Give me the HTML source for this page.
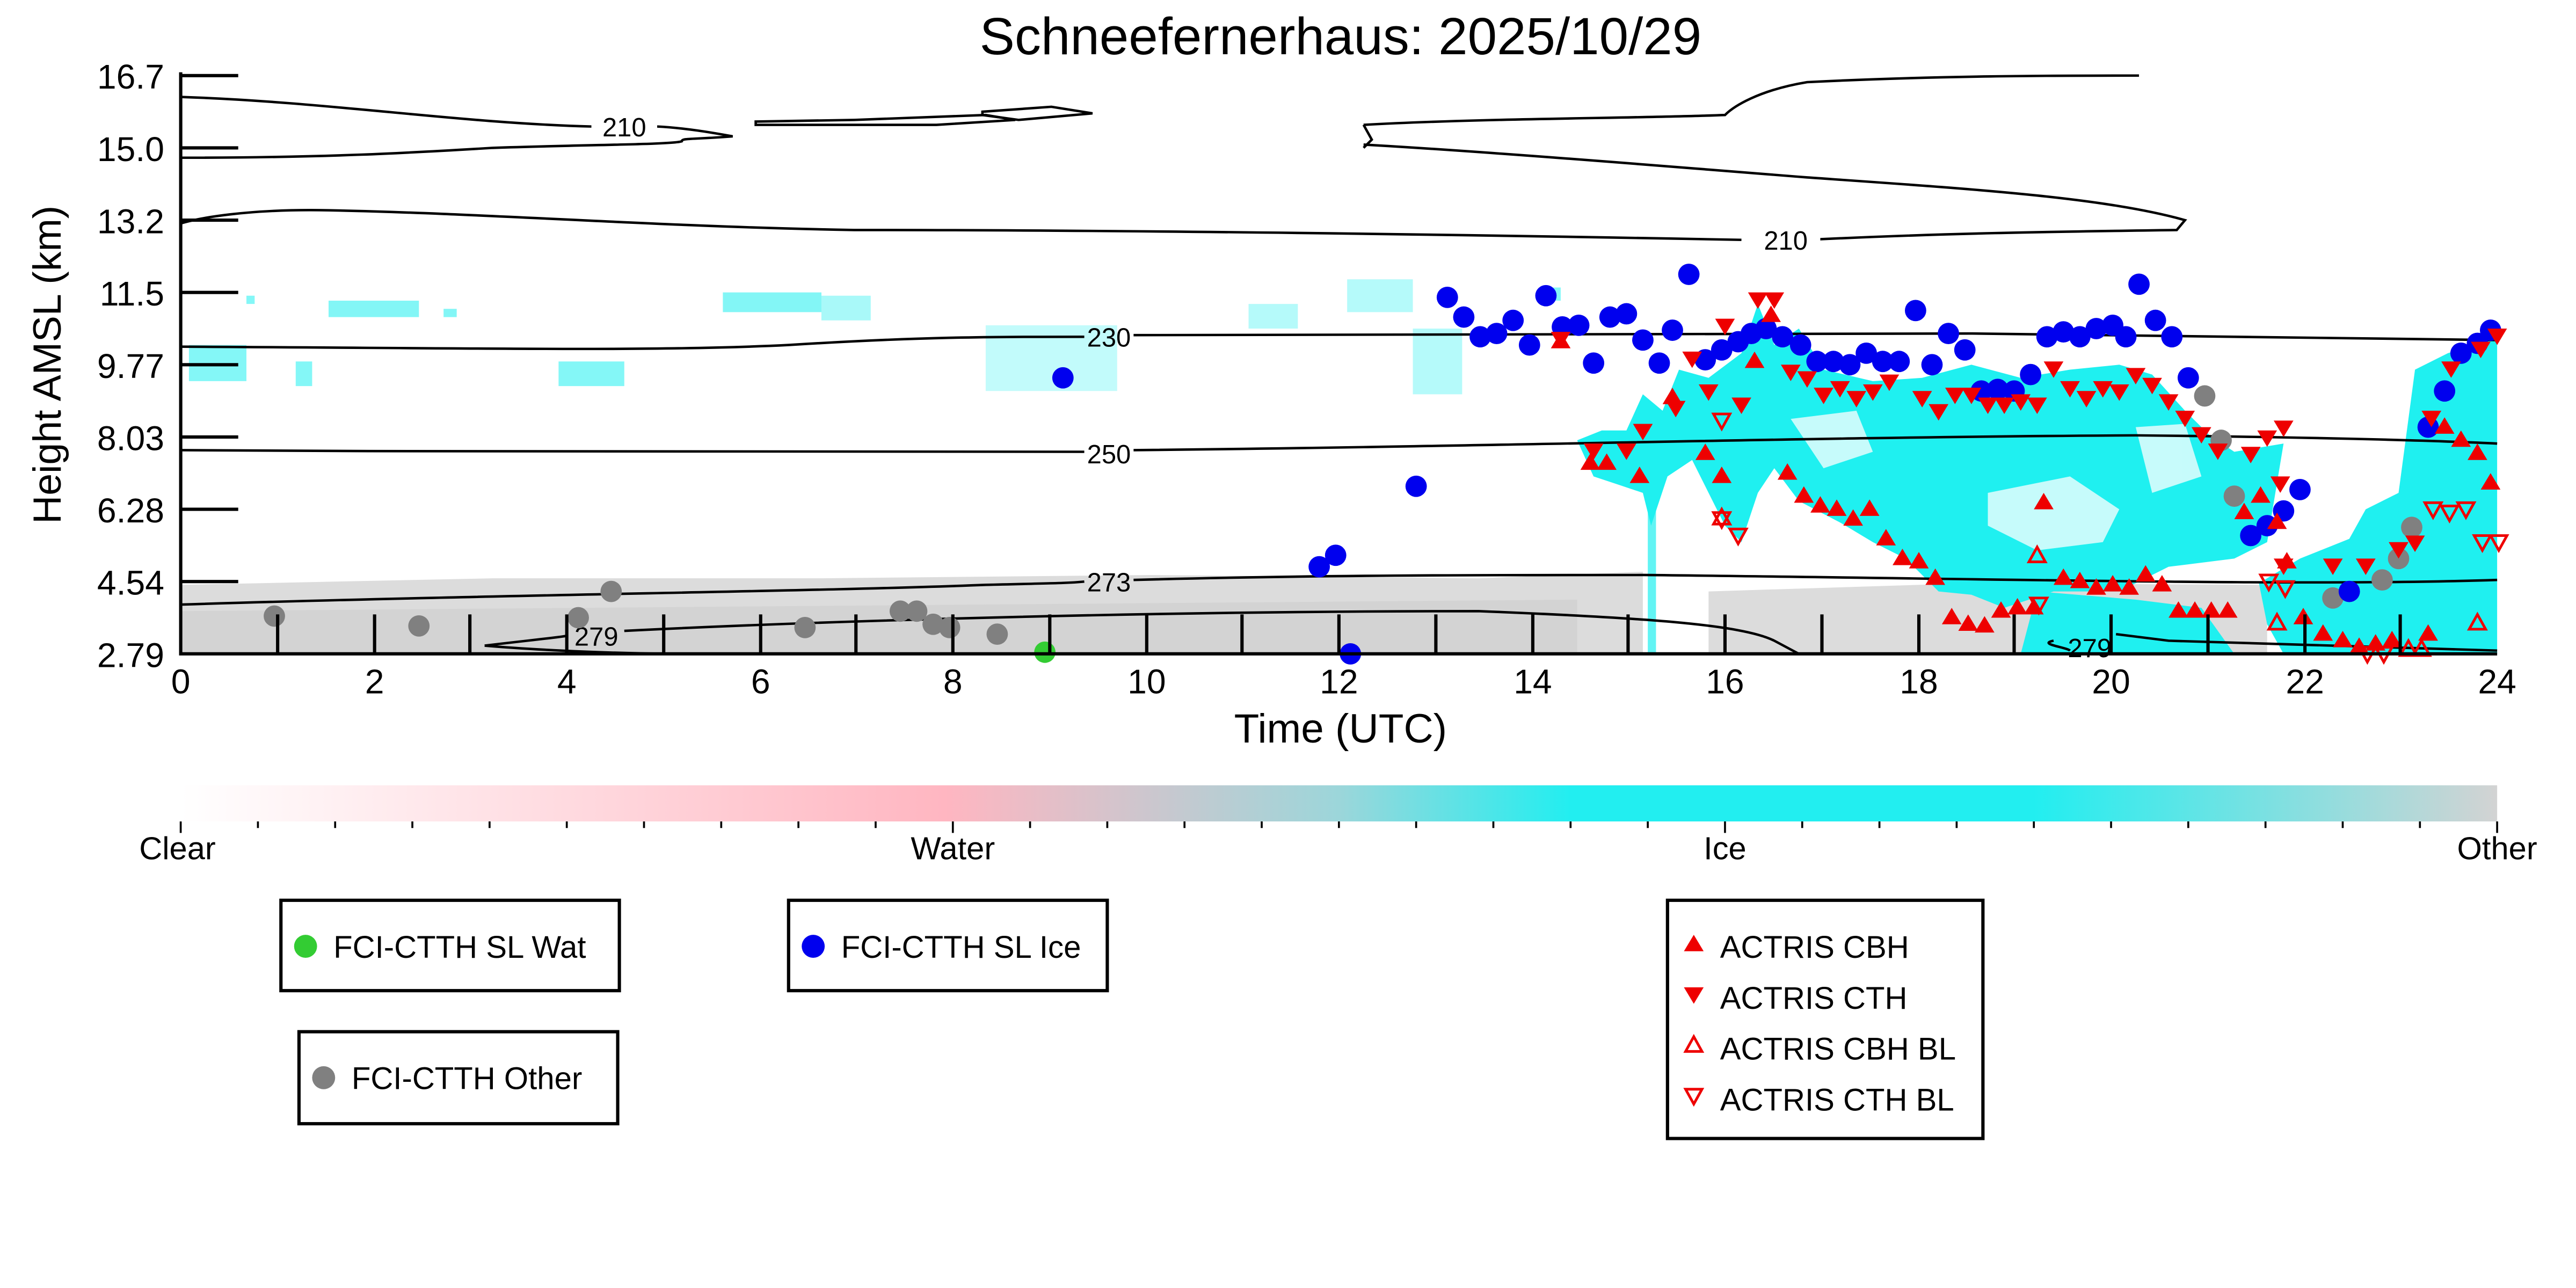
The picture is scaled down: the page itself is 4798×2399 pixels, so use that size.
<!DOCTYPE html>
<html><head><meta charset="utf-8"><style>
html,body{margin:0;padding:0;background:#fff}
svg{display:block}
text{font-family:"Liberation Sans",sans-serif}
</style></head><body>
<svg width="4798" height="2399" viewBox="0 0 1568 784" xmlns="http://www.w3.org/2000/svg">
<defs>
<linearGradient id="cb" x1="0" x2="1" y1="0" y2="0">
<stop offset="0" stop-color="#ffffff"/>
<stop offset="0.33" stop-color="#ffb6c1"/>
<stop offset="0.5" stop-color="#9cd6da"/>
<stop offset="0.6" stop-color="#22eef0"/>
<stop offset="0.8" stop-color="#22eef0"/>
<stop offset="1" stop-color="#d3d3d3"/>
</linearGradient>
</defs>
<text x="816" y="33" font-size="32" text-anchor="middle">Schneefernerhaus: 2025/10/29</text>

<!-- gray background band -->
<path d="M110,356 L300,352 L500,352 L700,350 L900,352 L1000,348 L1000,398 L110,398 Z" fill="#dcdcdc"/>
<path d="M1040,360 L1200,355 L1380,356 L1380,398 L1040,398Z" fill="#dcdcdc"/>
<path d="M110,372 L960,365 L960,398 L110,398Z" fill="#d3d3d3"/>

<!-- cyan regions -->
<g fill="#1ff0f0">
<path d="M960,268 L975,262 L990,262 L1000,240 L1012,250 L1022,225 L1040,230 L1060,215 L1070,185 L1080,210 L1095,200 L1110,225 L1140,232 L1170,230 L1200,222 L1230,230 L1260,225 L1290,222 L1310,228 L1330,250 L1345,265 L1360,275 L1390,270 L1385,300 L1380,330 L1360,340 L1320,345 L1290,360 L1250,360 L1220,370 L1200,362 L1180,360 L1160,340 L1140,330 L1120,318 L1095,305 L1080,285 L1070,300 L1060,330 L1050,320 L1040,300 L1030,280 L1015,290 L1005,320 L1000,300 L985,295 L970,290 Z"/>
<path d="M1375,355 L1400,340 L1430,328 L1440,310 L1460,300 L1470,225 L1490,215 L1520,205 L1520,398 L1390,398 L1380,380Z"/>
<path d="M1230,398 L1240,360 L1300,365 L1340,370 L1360,398Z"/>
<path d="M1003,300 h5 v98 h-5z" opacity="0.7"/>
</g>
<g fill="#1ff0f0" opacity="0.55">
<path d="M200,183 h55 v10 h-55z"/>
<path d="M440,178 h60 v12 h-60z"/>
<path d="M340,220 h40 v15 h-40z"/>
<path d="M115,210 h35 v22 h-35z"/>
<path d="M600,198 h80 v40 h-80z" opacity="0.5"/>
<path d="M760,185 h30 v15 h-30z" opacity="0.6"/>
<path d="M820,170 h40 v20 h-40z" opacity="0.6"/>
<path d="M860,200 h30 v40 h-30z" opacity="0.6"/>
<path d="M500,180 h30 v15 h-30z" opacity="0.7"/>
<path d="M180,220 h10 v15 h-10z"/>
<path d="M150,180 h5 v5 h-5z M270,188 h8 v5 h-8z M940,175 h10 v8 h-10z"/>
</g>
<g fill="#ffffff" opacity="0.75">
<path d="M1210,300 L1260,290 L1290,310 L1280,330 L1240,335 L1210,320Z"/>
<path d="M1090,255 L1130,250 L1140,275 L1110,285Z"/>
<path d="M1300,260 L1330,258 L1340,290 L1310,300Z"/>
</g>

<!-- contours -->
<g fill="none" stroke="#000" stroke-width="1.5">
<path d="M110,59 C200,62 280,75 360,77 M400,77 C420,78 440,82 446,83 C420,85 415,84 415,86 C410,88 360,88 300,90 C250,93 200,96 110,96"/>
<path d="M460,74 L520,73 L600,70 L618,73 L570,76 L460,76Z"/>
<path d="M598,68 L640,65 L665,69 L620,73 L598,70Z"/>
<path d="M830,76 C900,72 1000,72 1050,70 C1055,65 1070,55 1100,50 C1180,46 1250,46 1302,46 M830,88 C900,92 1000,100 1100,108 C1200,115 1280,120 1330,134 L1325,140 C1250,141 1180,142 1100,146 M1060,146 C900,143 700,140 520,140 C400,138 300,130 200,128 C150,127 120,133 110,136 M830,76 L835,85 L830,90"/>
<path d="M110,211 C300,212 400,214 480,210 C560,205 600,205 660,205 M690,204 C800,203 1000,202 1200,203 C1300,205 1400,206 1520,207"/>
<path d="M110,274 C300,275 500,276 660,275 M690,274 C900,272 1100,266 1300,265 C1400,266 1480,268 1520,270"/>
<path d="M110,368 C300,362 500,360 600,356 C640,355 650,355 660,354 M690,353 C800,350 900,350 1000,350 C1200,352 1400,357 1520,353"/>
<path d="M295,393 C320,390 340,388 345,387 M380,384 C500,378 700,372 900,372 C1000,376 1060,380 1080,390 L1095,398 M295,393 C330,396 380,398 420,398"/>
<path d="M1250,390 C1240,392 1258,394 1260,396 M1288,386 L1320,390 C1380,392 1450,394 1520,396"/>
</g>
<g font-size="16" text-anchor="middle" fill="#000">
<rect x="360" y="68" width="40" height="18" fill="#fff"/><text x="380" y="83">210</text>
<rect x="1068" y="137" width="40" height="18" fill="#fff"/><text x="1087" y="152">210</text>
<text x="675" y="211">230</text>
<text x="675" y="282">250</text>
<text x="675" y="360">273</text>
<text x="363" y="393">279</text>
<text x="1272" y="400">279</text>
</g>

<!-- markers -->
<g fill="#808080">
<circle cx="167" cy="375" r="6.5"/><circle cx="255" cy="381" r="6.5"/><circle cx="352" cy="376" r="6.5"/><circle cx="372" cy="360" r="6.5"/><circle cx="490" cy="382" r="6.5"/><circle cx="548" cy="372" r="6.5"/><circle cx="558" cy="372" r="6.5"/><circle cx="568" cy="380" r="6.5"/><circle cx="578" cy="382" r="6.5"/><circle cx="607" cy="386" r="6.5"/><circle cx="1342" cy="241" r="6.5"/><circle cx="1352" cy="268" r="6.5"/><circle cx="1360" cy="302" r="6.5"/><circle cx="1420" cy="364" r="6.5"/><circle cx="1450" cy="353" r="6.5"/><circle cx="1460" cy="340" r="6.5"/><circle cx="1468" cy="321" r="6.5"/>
</g>
<circle cx="636" cy="397" r="6.5" fill="#33cc33"/>
<g fill="#0000ee">
<circle cx="647" cy="230" r="6.5"/><circle cx="803" cy="345" r="6.5"/><circle cx="813" cy="338" r="6.5"/><circle cx="862" cy="296" r="6.5"/><circle cx="822" cy="398" r="6.5"/><circle cx="881" cy="181" r="6.5"/><circle cx="891" cy="193" r="6.5"/><circle cx="901" cy="205" r="6.5"/><circle cx="911" cy="203" r="6.5"/><circle cx="921" cy="195" r="6.5"/><circle cx="931" cy="210" r="6.5"/><circle cx="941" cy="180" r="6.5"/><circle cx="951" cy="199" r="6.5"/><circle cx="961" cy="198" r="6.5"/><circle cx="970" cy="221" r="6.5"/><circle cx="980" cy="193" r="6.5"/><circle cx="990" cy="191" r="6.5"/><circle cx="1000" cy="207" r="6.5"/><circle cx="1010" cy="221" r="6.5"/><circle cx="1018" cy="201" r="6.5"/><circle cx="1028" cy="167" r="6.5"/><circle cx="1038" cy="219" r="6.5"/><circle cx="1048" cy="213" r="6.5"/><circle cx="1058" cy="208" r="6.5"/><circle cx="1066" cy="203" r="6.5"/><circle cx="1075" cy="200" r="6.5"/><circle cx="1085" cy="205" r="6.5"/><circle cx="1096" cy="210" r="6.5"/><circle cx="1106" cy="220" r="6.5"/><circle cx="1116" cy="220" r="6.5"/><circle cx="1126" cy="222" r="6.5"/><circle cx="1136" cy="215" r="6.5"/><circle cx="1146" cy="220" r="6.5"/><circle cx="1156" cy="220" r="6.5"/><circle cx="1166" cy="189" r="6.5"/><circle cx="1176" cy="222" r="6.5"/><circle cx="1186" cy="203" r="6.5"/><circle cx="1196" cy="213" r="6.5"/><circle cx="1206" cy="238" r="6.5"/><circle cx="1216" cy="237" r="6.5"/><circle cx="1226" cy="238" r="6.5"/><circle cx="1236" cy="228" r="6.5"/><circle cx="1246" cy="205" r="6.5"/><circle cx="1256" cy="202" r="6.5"/><circle cx="1266" cy="205" r="6.5"/><circle cx="1276" cy="200" r="6.5"/><circle cx="1286" cy="198" r="6.5"/><circle cx="1294" cy="205" r="6.5"/><circle cx="1302" cy="173" r="6.5"/><circle cx="1312" cy="195" r="6.5"/><circle cx="1322" cy="205" r="6.5"/><circle cx="1332" cy="230" r="6.5"/><circle cx="1370" cy="326" r="6.5"/><circle cx="1380" cy="320" r="6.5"/><circle cx="1390" cy="311" r="6.5"/><circle cx="1400" cy="298" r="6.5"/><circle cx="1430" cy="360" r="6.5"/><circle cx="1478" cy="260" r="6.5"/><circle cx="1488" cy="238" r="6.5"/><circle cx="1498" cy="215" r="6.5"/><circle cx="1508" cy="209" r="6.5"/><circle cx="1516" cy="201" r="6.5"/>
</g>
<g fill="#ee0000">
<path d="M950,202 l6,10 h-12z M968,276 l6,10 h-12z M978,276 l6,10 h-12z M998,284 l6,10 h-12z M1018,236 l6,10 h-12z M1038,270 l6,10 h-12z M1048,284 l6,10 h-12z M1068,214 l6,10 h-12z M1078,186 l6,10 h-12z M1088,282 l6,10 h-12z M1098,296 l6,10 h-12z M1108,302 l6,10 h-12z M1118,304 l6,10 h-12z M1128,310 l6,10 h-12z M1138,304 l6,10 h-12z M1148,322 l6,10 h-12z M1158,334 l6,10 h-12z M1168,336 l6,10 h-12z M1178,346 l6,10 h-12z M1188,370 l6,10 h-12z M1198,374 l6,10 h-12z M1208,375 l6,10 h-12z M1218,366 l6,10 h-12z M1228,364 l6,10 h-12z M1238,364 l6,10 h-12z M1244,300 l6,10 h-12z M1256,346 l6,10 h-12z M1266,348 l6,10 h-12z M1276,352 l6,10 h-12z M1286,350 l6,10 h-12z M1296,352 l6,10 h-12z M1306,344 l6,10 h-12z M1316,350 l6,10 h-12z M1326,366 l6,10 h-12z M1336,366 l6,10 h-12z M1346,366 l6,10 h-12z M1356,366 l6,10 h-12z M1366,306 l6,10 h-12z M1376,296 l6,10 h-12z M1386,312 l6,10 h-12z M1392,336 l6,10 h-12z M1402,370 l6,10 h-12z M1414,380 l6,10 h-12z M1426,384 l6,10 h-12z M1436,388 l6,10 h-12z M1446,386 l6,10 h-12z M1456,384 l6,10 h-12z M1478,380 l6,10 h-12z M1488,254 l6,10 h-12z M1498,262 l6,10 h-12z M1508,270 l6,10 h-12z M1516,288 l6,10 h-12z"/>
<path d="M944,202 h12 l-6,10z M964,270 h12 l-6,10z M984,270 h12 l-6,10z M994,258 h12 l-6,10z M1014,244 h12 l-6,10z M1024,214 h12 l-6,10z M1034,234 h12 l-6,10z M1044,194 h12 l-6,10z M1054,242 h12 l-6,10z M1064,178 h12 l-6,10z M1074,178 h12 l-6,10z M1084,222 h12 l-6,10z M1094,226 h12 l-6,10z M1104,236 h12 l-6,10z M1114,232 h12 l-6,10z M1124,238 h12 l-6,10z M1134,234 h12 l-6,10z M1144,228 h12 l-6,10z M1164,238 h12 l-6,10z M1174,246 h12 l-6,10z M1184,236 h12 l-6,10z M1194,236 h12 l-6,10z M1204,242 h12 l-6,10z M1214,242 h12 l-6,10z M1224,240 h12 l-6,10z M1234,242 h12 l-6,10z M1244,220 h12 l-6,10z M1254,232 h12 l-6,10z M1264,238 h12 l-6,10z M1274,232 h12 l-6,10z M1284,234 h12 l-6,10z M1294,224 h12 l-6,10z M1304,230 h12 l-6,10z M1314,240 h12 l-6,10z M1324,250 h12 l-6,10z M1334,260 h12 l-6,10z M1344,270 h12 l-6,10z M1364,272 h12 l-6,10z M1374,262 h12 l-6,10z M1384,256 h12 l-6,10z M1382,290 h12 l-6,10z M1384,340 h12 l-6,10z M1414,340 h12 l-6,10z M1434,340 h12 l-6,10z M1454,330 h12 l-6,10z M1464,326 h12 l-6,10z M1474,250 h12 l-6,10z M1486,220 h12 l-6,10z M1504,208 h12 l-6,10z M1514,200 h12 l-6,10z"/>
</g>
<g fill="none" stroke="#ee0000" stroke-width="1.6">
<path d="M1048,310 l5,9 h-10z M1240,333 l5,9 h-10z M1386,374 l5,9 h-10z M1466,390 l5,9 h-10z M1508,374 l5,9 h-10z M1474,390 l5,9 h-10z"/>
<path d="M1043,252 h10 l-5,9z M1043,312 h10 l-5,9z M1053,322 h10 l-5,9z M1236,364 h10 l-5,9z M1376,350 h10 l-5,9z M1386,354 h10 l-5,9z M1476,306 h10 l-5,9z M1486,308 h10 l-5,9z M1496,306 h10 l-5,9z M1506,326 h10 l-5,9z M1516,326 h10 l-5,9z M1436,394 h10 l-5,9z M1446,394 h10 l-5,9z"/>
</g>

<!-- axes -->
<g stroke="#000" stroke-width="2" fill="none">
<path d="M110,44 V398 H1520"/>
<path d="M110,46 h35 M110,90 h35 M110,134 h35 M110,178 h35 M110,222 h35 M110,266 h35 M110,310 h35 M110,354 h35"/>
<path d="M169,374V398 M228,374V398 M286,374V398 M345,374V398 M404,374V398 M463,374V398 M521,374V398 M580,374V398 M639,374V398 M698,374V398 M756,374V398 M815,374V398 M874,374V398 M933,374V398 M991,374V398 M1050,374V398 M1109,374V398 M1168,374V398 M1226,374V398 M1285,374V398 M1344,374V398 M1403,374V398 M1461,374V398"/>
</g>
<g font-size="21" text-anchor="end">
<text x="100" y="54">16.7</text><text x="100" y="98">15.0</text><text x="100" y="142">13.2</text><text x="100" y="186">11.5</text><text x="100" y="230">9.77</text><text x="100" y="274">8.03</text><text x="100" y="318">6.28</text><text x="100" y="362">4.54</text><text x="100" y="406">2.79</text>
</g>
<g font-size="21" text-anchor="middle">
<text x="110" y="422">0</text><text x="228" y="422">2</text><text x="345" y="422">4</text><text x="463" y="422">6</text><text x="580" y="422">8</text><text x="698" y="422">10</text><text x="815" y="422">12</text><text x="933" y="422">14</text><text x="1050" y="422">16</text><text x="1168" y="422">18</text><text x="1285" y="422">20</text><text x="1403" y="422">22</text><text x="1520" y="422">24</text>
<text x="816" y="452" font-size="25">Time (UTC)</text>
</g>
<text transform="translate(37,222) rotate(-90)" font-size="24" text-anchor="middle">Height AMSL (km)</text>

<!-- colorbar -->
<rect x="110" y="478" width="1410" height="22" fill="url(#cb)"/>
<g stroke="#000" stroke-width="1.2">
<path d="M110,500 v7 M580,500 v7 M1050,500 v7 M1520,500 v7"/>
<path d="M157,500v4 M204,500v4 M251,500v4 M298,500v4 M345,500v4 M392,500v4 M439,500v4 M486,500v4 M533,500v4 M627,500v4 M674,500v4 M721,500v4 M768,500v4 M815,500v4 M862,500v4 M909,500v4 M956,500v4 M1003,500v4 M1097,500v4 M1144,500v4 M1191,500v4 M1238,500v4 M1285,500v4 M1332,500v4 M1379,500v4 M1426,500v4 M1473,500v4"/>
</g>
<g font-size="19.5" text-anchor="middle">
<text x="108" y="523">Clear</text><text x="580" y="523">Water</text><text x="1050" y="523">Ice</text><text x="1520" y="523">Other</text>
</g>

<!-- legends -->
<g stroke="#000" stroke-width="2" fill="#fff">
<rect x="171" y="548" width="206" height="55"/>
<rect x="480" y="548" width="194" height="55"/>
<rect x="182" y="628" width="194" height="56"/>
<rect x="1015" y="548" width="192" height="145"/>
</g>
<g font-size="19">
<circle cx="186" cy="576" r="7" fill="#33cc33"/><text x="203" y="583">FCI-CTTH SL Wat</text>
<circle cx="495" cy="576" r="7" fill="#0000ee"/><text x="512" y="583">FCI-CTTH SL Ice</text>
<circle cx="197" cy="656" r="7" fill="#808080"/><text x="214" y="663">FCI-CTTH Other</text>
<path d="M1031,569 l6,10 h-12z" fill="#ee0000"/><text x="1047" y="583">ACTRIS CBH</text>
<path d="M1025,601 h12 l-6,10z" fill="#ee0000"/><text x="1047" y="614">ACTRIS CTH</text>
<path d="M1031,631 l5,9 h-10z" fill="none" stroke="#ee0000" stroke-width="1.6"/><text x="1047" y="645">ACTRIS CBH BL</text>
<path d="M1026,663 h10 l-5,9z" fill="none" stroke="#ee0000" stroke-width="1.6"/><text x="1047" y="676">ACTRIS CTH BL</text>
</g>
</svg>
</body></html>
